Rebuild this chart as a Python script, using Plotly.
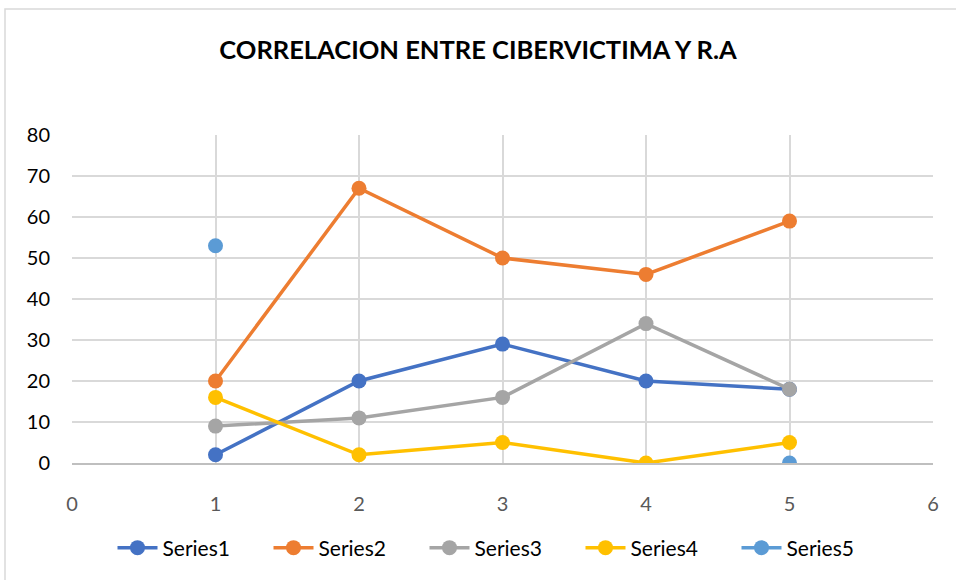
import plotly.graph_objects as go

x_vals = [1, 2, 3, 4, 5]
series1 = [2, 20, 29, 20, 18]
series2 = [20, 67, 50, 46, 59]
series3 = [9, 11, 16, 34, 18]
series4 = [16, 2, 5, 0, 5]
series5 = [53, None, None, None, 0]
names = ["Series1", "Series2", "Series3", "Series4", "Series5"]
colors = ["#4472C4", "#ED7D31", "#A5A5A5", "#FFC000", "#5B9BD5"]
title = "CORRELACION ENTRE CIBERVICTIMA Y R.A"

fig = go.Figure()
for name, ys, c in zip(names, [series1, series2, series3, series4, series5], colors):
    fig.add_trace(go.Scatter(
        x=x_vals, y=ys, name=name, mode="lines+markers",
        line=dict(color=c, width=3.5),
        marker=dict(color=c, size=15),
        connectgaps=False,
    ))

fig.update_layout(
    width=956, height=580,
    margin=dict(l=72, r=23, t=135, b=117),
    paper_bgcolor="white", plot_bgcolor="white",
    font=dict(family="Lato, Carlito, sans-serif", size=20, color="#222222"),
    title=dict(text="<b>" + title + "</b>", x=0.5, xanchor="center",
               y=1 - 50 / 580, yanchor="middle",
               font=dict(size=25.5, color="#000000")),
    showlegend=True,
    legend=dict(orientation="h", x=0.5, xanchor="center",
                y=(463 - 548) / 328, yanchor="middle",
                font=dict(size=21, color="#000000"), itemwidth=40, entrywidth=101),
    xaxis=dict(range=[0, 6], dtick=1, tick0=0, showgrid=True,
               gridcolor="#D9D9D9", gridwidth=1.5, zeroline=False,
               showline=True, linecolor="#BFBFBF", linewidth=1.5,
               ticks="", ticklabelstandoff=22, tickfont=dict(color="#595959", size=20)),
    yaxis=dict(range=[0, 80], dtick=10, showgrid=True,
               gridcolor="#D9D9D9", gridwidth=1.5, zeroline=False,
               showline=False, ticks="", ticklabelstandoff=21,
               tickfont=dict(color="#000000", size=20)),
    shapes=[dict(type="rect", xref="paper", yref="paper",
                 x0=(5 - 72) / 861, x1=(975 - 72) / 861,
                 y0=(463 - 590) / 328, y1=(463 - 9) / 328,
                 line=dict(color="#D9D9D9", width=1.5), layer="below")],
)

fig.write_html("out.html", config={"displayModeBar": False},
               post_script="document.body.style.margin='0';")
